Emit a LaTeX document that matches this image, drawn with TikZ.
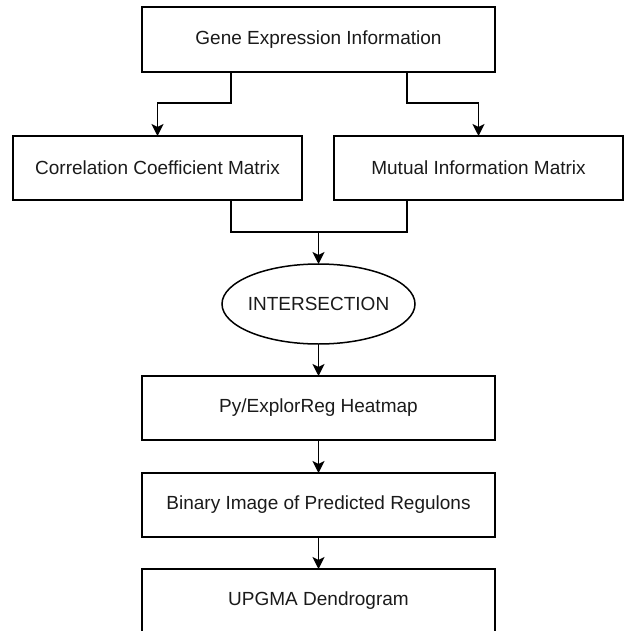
\documentclass[tikz,border=0pt]{standalone}
\usepackage{fontspec}
\setmainfont{Liberation Sans}
\usetikzlibrary{arrows.meta,shapes.geometric}
\definecolor{txt}{HTML}{1A1A1A}
\begin{document}
\begin{tikzpicture}[x=1pt,y=-1pt,
  every node/.style={font=\fontsize{19}{23}\selectfont, text=txt, inner sep=0pt, outer sep=0pt},
  box/.style={draw=black, line width=1.5pt, rectangle, minimum height=64pt},
  wide/.style={box, minimum width=353pt},
  half/.style={box, minimum width=289pt},
  oval/.style={draw=black, line width=1.5pt, ellipse, minimum width=193pt, minimum height=80pt},
  link/.style={draw=black, line width=1.5pt},
  arr/.style={link, -{Stealth[length=12pt, width=12pt, inset=3pt]}}
]
\useasboundingbox (0,0) rectangle (624,631);
\node[wide, minimum height=65pt] (top) at (318.5,39.5) {Gene Expression Information};
\node[half] (cc) at (157.5,168) {Correlation Coefficient Matrix};
\node[half] (mi) at (478.5,168) {Mutual Information Matrix};
\node[oval] (inter) at (318.5,304) {\makebox[0pt]{INTERSECTION}};
\node[wide] (heat) at (318.5,408) {Py/ExplorReg Heatmap};
\node[wide] (bin) at (318.5,505) {Binary Image of Predicted Regulons};
\node[wide] (upgma) at (318.5,601) {UPGMA Dendrogram};
\coordinate (m) at (318.5,232);
\draw[arr] ([xshift=-87.5pt]top.south) -- ++(0,31) -| (cc.north);
\draw[arr] ([xshift=88.5pt]top.south) -- ++(0,31) -| (mi.north);
\draw[link] ([xshift=73.5pt]cc.south) |- (m) -| ([xshift=-71.5pt]mi.south);
\draw[arr] (m) -- (inter.north);
\draw[arr] (inter.south) -- (heat.north);
\draw[arr] (heat.south) -- (bin.north);
\draw[arr] (bin.south) -- (upgma.north);
\end{tikzpicture}
\end{document}
